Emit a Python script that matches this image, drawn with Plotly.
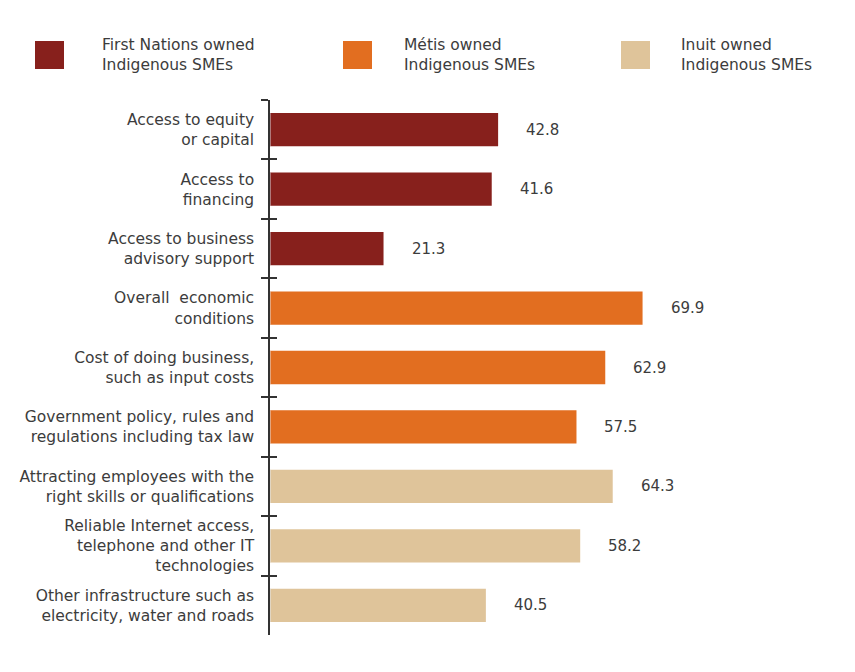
import plotly.graph_objects as go

categories = [
    "Access to equity<br>or capital",
    "Access to<br>financing",
    "Access to business<br>advisory support",
    "Overall  economic<br>conditions",
    "Cost of doing business,<br>such as input costs",
    "Government policy, rules and<br>regulations including tax law",
    "Attracting employees with the<br>right skills or qualifications",
    "Reliable Internet access,<br>telephone and other IT<br>technologies",
    "Other infrastructure such as<br>electricity, water and roads",
]
values = [42.8, 41.6, 21.3, 69.9, 62.9, 57.5, 64.3, 58.2, 40.5]
groups = ["First Nations owned<br>Indigenous SMEs"] * 3 + ["Métis owned<br>Indigenous SMEs"] * 3 + ["Inuit owned<br>Indigenous SMEs"] * 3
group_names = ["First Nations owned<br>Indigenous SMEs", "Métis owned<br>Indigenous SMEs", "Inuit owned<br>Indigenous SMEs"]
group_colors = ["#87201C", "#E26E20", "#DFC49A"]

W, H = 855, 672
OFF = 8  # page body margin
L, T = 270 - OFF, 100 - OFF
R = W - (803 - OFF)
B = H - (635 - OFF)
FONT = "DejaVu Sans"
TXT = "#3C3C3C"

def px(x):
    return (x - OFF - L) / (W - L - R)

def py(y):
    return (H - B - (y - OFF)) / (H - T - B)

color_map = dict(zip(group_names, group_colors))
fig = go.Figure()
fig.add_trace(go.Bar(
    x=values, y=categories, orientation="h",
    marker=dict(color=[color_map[g] for g in groups], line=dict(width=0)),
    showlegend=False, hoverinfo="x+y",
))
fig.add_trace(go.Bar(x=[0] * len(categories), y=categories, orientation="h",
                     yaxis="y2", showlegend=False, hoverinfo="skip",
                     marker=dict(color="rgba(0,0,0,0)")))

for c, v in zip(categories, values):
    fig.add_annotation(x=v, y=c, text=f"{v:.1f}", showarrow=False,
                       xanchor="left", xshift=26, yshift=0,
                       font=dict(family=FONT, size=15, color=TXT))

legend_sq_x = [35, 343, 621]
legend_txt_x = [102, 404, 681]
for name, col, sx, tx in zip(group_names, group_colors, legend_sq_x, legend_txt_x):
    fig.add_shape(type="rect", xref="paper", yref="paper",
                  x0=px(sx), x1=px(sx + 29), y0=py(69), y1=py(41),
                  fillcolor=col, line=dict(width=0))
    fig.add_annotation(xref="paper", yref="paper", x=px(tx - 2), y=py(55),
                       text=name, showarrow=False, xanchor="left", yanchor="middle",
                       align="left", font=dict(family=FONT, size=15.5, color=TXT))

fig.update_layout(
    width=W, height=H,
    margin=dict(l=L, r=R, t=T, b=B),
    paper_bgcolor="white", plot_bgcolor="white",
    bargap=0.44, barmode="overlay",
    font=dict(family=FONT, size=15.5, color=TXT),
    xaxis=dict(range=[0, 100], visible=False, fixedrange=True),
    yaxis=dict(autorange="reversed", categoryorder="array", categoryarray=categories,
               showline=True, linecolor="#333333", linewidth=1.5,
               ticks="outside", tickson="boundaries", ticklen=7, tickwidth=1.5,
               tickcolor="#333333", showgrid=False, zeroline=False,
               tickfont=dict(family=FONT, size=15.5, color=TXT),
               ticklabelstandoff=11),
    yaxis2=dict(overlaying="y", matches="y", side="left", anchor="x",
                categoryorder="array", categoryarray=categories,
                showline=False, ticks="inside", tickson="boundaries", ticklen=7,
                tickwidth=1.5, tickcolor="#333333", showticklabels=False,
                showgrid=False, zeroline=False),
)

fig.write_html("out.html")
